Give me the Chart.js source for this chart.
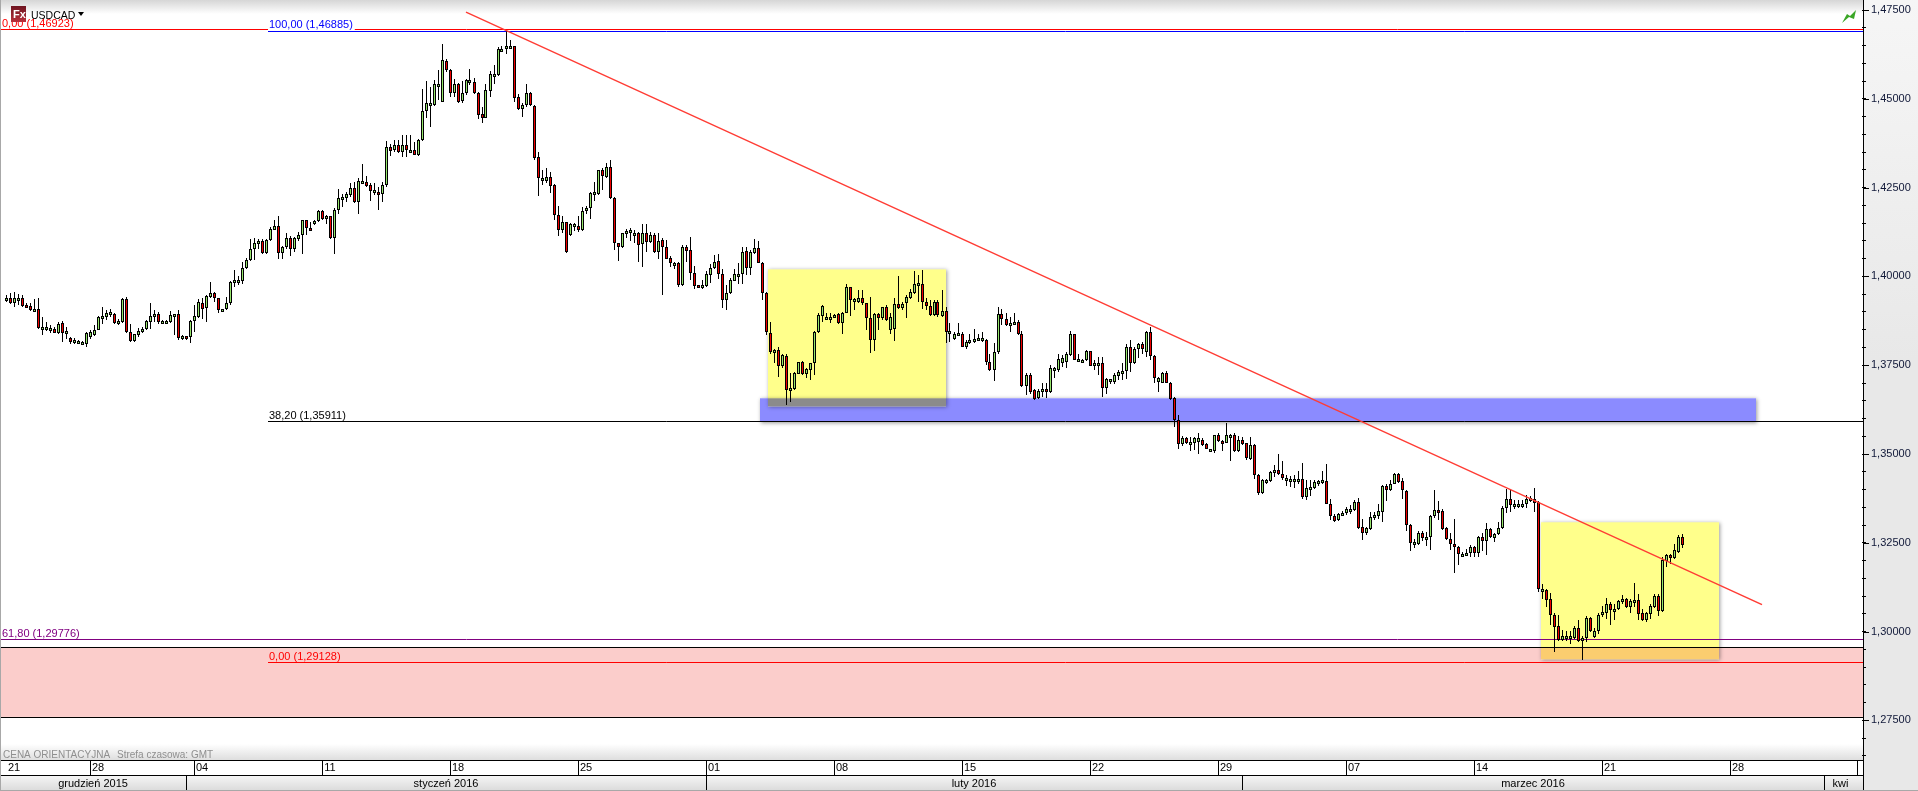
<!DOCTYPE html>
<html><head><meta charset="utf-8">
<style>html,body{margin:0;padding:0;background:#fff;overflow:hidden}canvas{display:block}</style>
<script src="https://cdn.jsdelivr.net/npm/chart.js@4/dist/chart.umd.min.js"></script>
</head><body><canvas id="c" width="1918" height="791"></canvas>
<script>
// Prices are stored in pips (1/10000), one value per 4-hour candle.
const opens=[
13935,13940,13925,13936,13938,13920,13916,13905,13907,13853,
13852,13853,13853,13842,13868,13841,13827,13816,13814,13816,
13811,13830,13834,13850,13881,13886,13895,13895,13869,13872,
13936,13844,13818,13836,13846,13851,13872,13886,13893,13869,
13871,13872,13892,13893,13830,13831,13830,13875,13886,13926,
13912,13942,13954,13938,13905,13907,13925,13982,13989,13986,
14025,14047,14078,14093,14100,14067,14102,14132,14143,14067,
14083,14107,14078,14104,14118,14158,14135,14149,14155,14184,
14164,14170,14107,14188,14220,14222,14229,14250,14210,14266,
14266,14257,14239,14239,14231,14256,14363,14355,14370,14351,
14371,14354,14355,14343,14385,14466,14483,14482,14538,14492,
14607,14581,14517,14541,14494,14515,14547,14547,14517,14456,
14447,14523,14568,14567,14639,14641,14647,14648,14504,14471,
14482,14515,14481,14335,14270,14270,14280,14256,14174,14130,
14153,14118,14143,14143,14130,14183,14194,14235,14231,14299,
14280,14307,14222,14093,14083,14121,14123,14121,14123,
14090,14121,14098,14116,14069,14102,14084,14052,14036,14037,
13976,14082,14074,14011,13975,13969,13973,14004,14023,14043,
14007,13933,13953,13988,14005,14007,14071,14025,14067,14079,
14039,13954,13842,13788,13794,13748,13776,13682,13684,13726,
13758,13724,13738,13755,13844,13890,13884,13879,13888,13893,
13868,13898,13969,13930,13929,13938,13924,13882,13822,13893,
13884,13915,13849,13851,13921,13910,13924,13940,13953,13980,
13980,13929,13918,13891,13928,13890,13902,13842,13824,13838,
13839,13802,13813,13818,13824,13822,13822,13760,13737,13786,
13893,13879,13862,13869,13873,13837,13692,13722,13679,13658,
13675,13684,13675,13738,13736,13755,13760,13780,13837,13762,
13760,13764,13789,13748,13753,13755,13687,13703,13703,13720,
13731,13733,13802,13755,13796,13811,13788,13843,13777,13703,
13701,13727,13701,13659,13597,13527,13545,13531,13532,13534,
13539,13527,13511,13509,13553,13537,13531,13552,13553,13509,
13539,13530,13487,13525,13442,13389,13424,13424,13447,13456,
13445,13429,13426,13428,13426,13431,13379,13404,13404,13418,
13419,13425,13360,13326,13315,13328,13334,13342,13343,13364,
13295,13278,13290,13324,13325,13337,13409,13398,13417,13445,
13423,13397,13301,13247,13246,13279,13264,13267,13325,13343,
13339,13291,13262,13248,13239,13213,13213,13221,13238,13221,
13267,13255,13290,13264,13274,13292,13348,13374,13356,13356,
13356,13358,13372,13374,13364,13117,13118,13091,13048,13017,
12977,12985,12985,12983,13009,12973,12982,13038,12985,13002,
13046,13052,13077,13058,13064,13083,13093,13069,13084,13088,
13052,13032,13050,13069,13100,13058,13199,13215,13207,13224,
13266];
const highs=[
13947,13952,13955,13950,13947,13924,13924,13936,13938,13886,
13872,13862,13858,13872,13875,13858,13830,13828,13820,13818,
13844,13848,13862,13888,13914,13905,13908,13897,13881,13938,
13942,13865,13839,13856,13858,13877,13925,13905,13900,13877,
13877,13903,13895,13905,13834,13831,13877,13919,13936,13938,
13947,13983,13955,13939,13909,13942,13986,14019,14000,14041,
14053,14104,14107,14106,14104,14104,14139,14158,14170,14085,
14123,14113,14111,14125,14158,14160,14154,14158,14188,14188,
14172,14171,14194,14245,14233,14238,14263,14266,14276,14316,
14282,14263,14263,14252,14266,14381,14372,14384,14384,14398,
14398,14398,14379,14388,14529,14550,14534,14553,14581,14654,
14611,14585,14557,14545,14551,14555,14583,14560,14520,14476,
14543,14579,14595,14645,14648,14692,14665,14650,14513,14487,
14543,14519,14483,14349,14301,14304,14294,14259,14198,14170,
14154,14151,14151,14170,14196,14198,14238,14266,14301,14304,
14318,14327,14224,14094,14123,14134,14136,14130,14125,
14147,14149,14125,14121,14121,14107,14102,14057,14041,14041,
14088,14088,14110,14030,13976,13990,14016,14034,14060,14062,
14020,13976,13997,14022,14037,14084,14084,14074,14104,14100,
14041,13956,13871,13796,13802,13783,13783,13727,13731,13760,
13761,13741,13757,13847,13896,13920,13898,13896,13894,13896,
13900,13980,13971,13940,13961,13961,13926,13941,13896,13896,
13915,13919,13896,13938,14001,13929,13947,13966,14016,14004,
14018,13938,13933,13933,13933,13963,13913,13869,13844,13869,
13843,13822,13838,13853,13837,13844,13824,13783,13813,13913,
13907,13898,13886,13898,13877,13847,13729,13727,13682,13684,
13699,13700,13750,13744,13783,13778,13788,13847,13839,13783,
13768,13792,13791,13764,13772,13774,13715,13711,13729,13738,
13755,13811,13822,13802,13813,13816,13847,13858,13779,13717,
13731,13734,13703,13661,13609,13550,13548,13548,13548,13558,
13544,13530,13515,13555,13558,13539,13586,13557,13558,13550,
13548,13531,13548,13527,13445,13431,13431,13452,13468,13499,
13480,13440,13437,13440,13452,13475,13428,13428,13428,13428,
13452,13471,13374,13332,13334,13340,13351,13356,13370,13377,
13318,13296,13337,13337,13358,13412,13415,13428,13447,13447,
13433,13400,13303,13262,13282,13282,13280,13329,13398,13367,
13346,13295,13278,13316,13242,13224,13233,13243,13242,13270,
13278,13307,13293,13278,13309,13353,13402,13401,13371,13370,
13371,13384,13381,13405,13367,13135,13121,13109,13052,13046,
13005,13003,13002,13015,13033,12987,13043,13041,13011,13052,
13071,13094,13083,13077,13090,13102,13095,13093,13138,13107,
13064,13055,13077,13107,13105,13210,13218,13219,13246,13271,
13276];
const lows=[
13928,13922,13914,13919,13914,13912,13903,13903,13853,13834,
13846,13841,13841,13839,13816,13825,13811,13811,13813,13806,
13801,13825,13831,13848,13867,13878,13886,13867,13862,13869,
13842,13816,13816,13830,13841,13848,13853,13872,13867,13865,
13867,13869,13834,13820,13822,13822,13813,13844,13884,13881,
13872,13938,13928,13897,13900,13905,13919,13969,13975,13980,
14022,14044,14046,14078,14064,14064,14100,14130,14050,14050,
14078,14057,14069,14100,14062,14116,14127,14144,14154,14160,
14147,14104,14064,14177,14196,14210,14224,14208,14177,14262,
14252,14213,14229,14188,14210,14252,14339,14351,14348,14335,
14337,14348,14341,14340,14382,14447,14421,14479,14496,14490,
14576,14506,14506,14487,14487,14510,14539,14513,14442,14432,
14445,14506,14543,14564,14635,14626,14642,14492,14468,14449,
14478,14479,14327,14227,14256,14262,14235,14160,14113,14121,
14067,14113,14128,14125,14128,14177,14161,14212,14229,14243,
14278,14217,14074,14044,14081,14109,14100,14094,14041,
14027,14069,14093,14067,14048,13947,14048,14027,14022,13971,
13973,14041,13990,13966,13967,13966,13969,13982,14022,13994,
13912,13905,13950,13987,13980,13978,14004,14004,14063,14037,
13935,13835,13783,13755,13717,13741,13638,13647,13680,13724,
13722,13713,13708,13722,13841,13872,13879,13869,13886,13865,
13838,13896,13888,13905,13924,13919,13849,13785,13791,13849,
13877,13875,13838,13819,13907,13905,13882,13936,13950,13929,
13907,13905,13890,13888,13886,13886,13813,13816,13822,13835,
13800,13796,13809,13813,13819,13816,13750,13734,13705,13783,
13863,13860,13844,13866,13835,13689,13666,13670,13652,13654,
13661,13659,13672,13713,13731,13744,13741,13776,13764,13761,
13759,13762,13747,13736,13722,13661,13670,13697,13697,13708,
13708,13710,13731,13753,13769,13781,13772,13766,13700,13675,
13699,13699,13653,13575,13515,13523,13527,13509,13511,13501,
13524,13513,13509,13503,13535,13509,13530,13481,13506,13506,
13526,13483,13484,13431,13386,13387,13415,13422,13436,13440,
13428,13409,13407,13404,13417,13373,13370,13381,13402,13410,
13415,13358,13313,13310,13311,13325,13327,13330,13340,13290,
13259,13271,13287,13315,13318,13309,13367,13396,13415,13418,
13374,13283,13227,13236,13243,13255,13240,13229,13321,13313,
13287,13259,13231,13165,13189,13210,13212,13210,13210,13210,
13227,13215,13264,13252,13271,13289,13334,13337,13346,13349,
13349,13349,13365,13337,13111,13091,13069,13020,12942,12975,
12973,12975,12964,12980,12971,12919,12971,12999,12983,12994,
13041,13036,13018,13032,13060,13077,13067,13052,13069,13032,
13030,13027,13036,13067,13043,13056,13182,13191,13204,13222,
13236];
const closes=[
13940,13925,13938,13939,13916,13914,13905,13908,13855,13859,
13859,13855,13842,13867,13841,13846,13816,13822,13818,13816,
13840,13843,13850,13886,13888,13897,13899,13869,13875,13936,
13844,13818,13837,13846,13853,13874,13888,13893,13872,13874,
13874,13891,13893,13828,13831,13829,13875,13888,13928,13909,
13944,13954,13938,13905,13907,13926,13984,13991,13991,14025,
14047,14078,14093,14100,14067,14102,14134,14142,14067,14083,
14107,14078,14108,14118,14158,14135,14130,14155,14184,14163,
14170,14107,14188,14222,14224,14231,14250,14210,14270,14270,
14255,14241,14243,14229,14256,14363,14354,14370,14351,14371,
14355,14357,14343,14385,14466,14487,14487,14541,14541,14609,
14581,14517,14541,14492,14515,14553,14553,14517,14454,14447,
14524,14570,14570,14640,14641,14648,14648,14501,14471,14484,
14515,14482,14334,14278,14278,14280,14255,14174,14132,14153,
14069,14147,14147,14130,14185,14194,14236,14237,14299,14282,
14307,14220,14093,14083,14121,14129,14130,14123,14088,
14121,14098,14116,14068,14100,14084,14050,14037,14038,13976,
14082,14072,14010,13974,13969,13975,14006,14024,14042,14007,
13935,13954,13990,14008,14008,14070,14024,14069,14079,14039,
13952,13843,13788,13794,13748,13778,13680,13687,13727,13758,
13724,13739,13755,13844,13891,13916,13886,13886,13891,13868,
13898,13969,13935,13936,13938,13924,13882,13822,13893,13884,
13913,13877,13886,13922,13910,13921,13941,13955,13980,13982,
13929,13916,13892,13928,13891,13903,13844,13846,13837,13842,
13802,13816,13821,13825,13828,13828,13759,13737,13786,13893,
13879,13863,13870,13873,13837,13692,13722,13675,13656,13678,
13684,13675,13741,13741,13768,13770,13781,13837,13766,13768,
13766,13791,13748,13755,13755,13686,13711,13710,13722,13731,
13734,13802,13757,13797,13809,13795,13843,13776,13713,13713,
13727,13700,13656,13595,13528,13546,13530,13534,13544,13545,
13525,13515,13514,13553,13537,13532,13553,13555,13509,13539,
13528,13490,13525,13442,13389,13428,13428,13450,13456,13443,
13433,13433,13431,13431,13431,13379,13405,13407,13420,13423,
13426,13360,13326,13311,13330,13335,13344,13346,13365,13293,
13278,13291,13323,13327,13339,13409,13400,13417,13445,13421,
13398,13301,13250,13251,13279,13264,13267,13326,13343,13338,
13289,13262,13246,13238,13218,13219,13222,13238,13221,13267,
13255,13290,13266,13276,13293,13348,13374,13356,13360,13360,
13360,13374,13377,13363,13119,13121,13090,13047,13013,12977,
12989,12988,12988,13010,12975,12981,13038,13002,13003,13048,
13054,13077,13060,13064,13085,13093,13069,13086,13088,13050,
13032,13052,13071,13100,13058,13201,13215,13206,13229,13266,
13243];

// Weekly date row and month row
const dayLabels=['21','28','04','11','18','25','01','08','15','22','29','07','14','21','28'];
const dayIndex=[1,22,48,80,112,144,176,208,240,272,304,336,368,400,432];
const monthLabels=['grudzień 2015','styczeń 2016','luty 2016','marzec 2016','kwi'];
const monthEdges=[0,46,176,310,455.5,465];
const slotCount=466;

// Fibonacci levels drawn on the chart
const fibTexts=['0,00 (1,46923)','100,00 (1,46885)','38,20 (1,35911)','61,80 (1,29776)','0,00 (1,29128)'];
const fibPrices=[14695,14690,13591,12978,12913];
const fibStart=[0,66.5,66.5,0,66.5];
const fibColors=['#ff0000','#0000ff','#000000','#800080','#ff0000'];

// Zones: [left slot, right slot, upper price, lower price]
const pinkZone=[-1,slotCount,12957,12760];
const blueZone=[189.5,438.5,13657,13591];
const yellowZones=[[191.5,236,14020,13634],[384.75,429.25,13308,12922]];
// Falling trend line through the highs
const trendSlots=[116,440];
const trendPrices=[14744,13076];

if(new Set([opens.length,highs.length,lows.length,closes.length]).size!==1)console.error('length mismatch',opens.length,highs.length,lows.length,closes.length);

const FONT='"Liberation Sans"';
const PANEL_LEFT=1,PANEL_RIGHT=1863;
const categories=Array.from({length:slotCount},(_,i)=>{const k=dayIndex.indexOf(i);return k>=0?dayLabels[k]:'';});
const pad=a=>[null,...a,...Array(slotCount-a.length-1).fill(null)];
const wickData=pad(highs.map((h,i)=>[lows[i],h]));
const bodyData=pad(opens.map((o,i)=>[o,closes[i]]));
const bodyColors=pad(opens.map((o,i)=>closes[i]>=o?'#96e66c':'#f00000'));
const trendData=Array(slotCount).fill(null);
trendData[trendSlots[0]]=trendPrices[0];trendData[trendSlots[1]]=trendPrices[1];

const chrome={
 id:'chrome',
 beforeDraw(c){
  const g=c.ctx,w=c.width;
  g.save();
  g.fillStyle='#fff';g.fillRect(0,0,w,791);
  let gr=g.createLinearGradient(0,0,0,14);gr.addColorStop(0,'#d6d6d6');gr.addColorStop(1,'#ffffff');
  g.fillStyle=gr;g.fillRect(0,0,PANEL_RIGHT,14);
  gr=g.createLinearGradient(0,744,0,760);gr.addColorStop(0,'#ffffff');gr.addColorStop(1,'#dedede');
  g.fillStyle=gr;g.fillRect(0,744,PANEL_RIGHT,16);
  gr=g.createLinearGradient(0,0,0,360);gr.addColorStop(0,'#f6f6f6');gr.addColorStop(1,'#e8e8e8');
  g.fillStyle=gr;g.fillRect(PANEL_RIGHT,0,55,791);
  g.restore();
 },
 beforeDatasetsDraw(c){
  const g=c.ctx,x=c.scales.x,y=c.scales.y;
  const rectOf=z=>{const l=Math.max(PANEL_LEFT,x.getPixelForValue(z[0])),r=Math.min(PANEL_RIGHT,x.getPixelForValue(z[1])),t=y.getPixelForValue(z[2]),b=y.getPixelForValue(z[3]);return [l,r,t,b];};
  const shadow=q=>{
   g.save();
   g.beginPath();g.rect(0,0,c.width,c.height);g.rect(q[0],q[2],q[1]-q[0],q[3]-q[2]);g.clip('evenodd');
   g.shadowColor='rgba(0,0,0,.4)';g.shadowBlur=4;g.shadowOffsetX=1;g.shadowOffsetY=1;
   g.fillStyle='#fff';g.fillRect(q[0],q[2],q[1]-q[0],q[3]-q[2]);
   g.restore();
  };
  g.save();
  const p=rectOf(pinkZone);
  g.fillStyle='#fbcdcb';g.fillRect(p[0],p[2],p[1]-p[0],p[3]-p[2]);
  g.fillStyle='#000';g.fillRect(p[0],Math.round(p[2]),p[1]-p[0],1);g.fillRect(p[0],Math.round(p[3]),p[1]-p[0],1);
  const b=rectOf(blueZone);
  shadow(b);
  g.fillStyle='#8b8bff';g.fillRect(b[0],b[2],b[1]-b[0],b[3]-b[2]);
  yellowZones.forEach(z=>{
   const q=rectOf(z);
   shadow(q);
   g.save();
   g.globalCompositeOperation='multiply';
   g.fillStyle='#ffff8b';g.fillRect(q[0],q[2],q[1]-q[0],q[3]-q[2]);
   g.restore();
  });
  g.restore();
  g.save();
  fibPrices.forEach((v,i)=>{
   const py=Math.floor(y.getPixelForValue(v))+.5,l=fibStart[i]?x.getPixelForValue(fibStart[i]):PANEL_LEFT;
   g.strokeStyle=fibColors[i];g.lineWidth=1;g.beginPath();g.moveTo(l,py);g.lineTo(PANEL_RIGHT,py);g.stroke();
  });
  g.restore();
  // Crisp candles: bars sit on whole pixels
  c.data.datasets.forEach((d,i)=>{
   if(d.type==='line')return;
   c.getDatasetMeta(i).data.forEach(el=>{
    if(!isFinite(el.x)||!isFinite(el.y))return;
    el.x=Math.floor(el.x)+.5;el.y=Math.round(el.y);el.base=Math.round(el.base);
    if(d.label==='body'&&Math.abs(el.y-el.base)<3){el.base=el.y+3;}
   });
  });
 },
 afterDatasetsDraw(c){
  const g=c.ctx,x=c.scales.x,y=c.scales.y;
  g.save();
  g.font='11px '+FONT;g.textBaseline='alphabetic';g.textAlign='left';
  fibTexts.forEach((t,i)=>{
   const px=fibStart[i]?x.getPixelForValue(fibStart[i])+1:2;
   const py=Math.floor(y.getPixelForValue(fibPrices[i]));
   if(i===1){g.fillStyle='#fff';g.fillRect(px-1,18,g.measureText(t).width+3,12);}
   g.fillStyle=fibColors[i];
   g.fillText(t,px,py-(i===1?3:2));
  });
  let gr=g.createLinearGradient(0,6,0,22);gr.addColorStop(0,'#6e1420');gr.addColorStop(1,'#b8303c');
  g.fillStyle=gr;g.fillRect(11,6,15,16);
  g.fillStyle='#fff';g.font='bold 11px '+FONT;g.fillText('Fx',13,18);
  g.fillStyle='#000';g.font='10.5px '+FONT;g.fillText('USDCAD',31,19);
  g.beginPath();g.moveTo(78,12);g.lineTo(84,12);g.lineTo(81,16);g.closePath();g.fill();
  g.fillStyle='#3aa626';g.beginPath();
  [[1842,23],[1847,14],[1850,16],[1856,10],[1854,19],[1849,17]].forEach((q,i)=>i?g.lineTo(q[0],q[1]):g.moveTo(q[0],q[1]));
  g.closePath();g.fill();
  g.fillStyle='#8f8f8f';g.font='10px '+FONT;
  g.fillText('CENA ORIENTACYJNA',3,758);g.fillText('Strefa czasowa: GMT',117,758);
  g.restore();
 },
 afterDraw(c){
  const g=c.ctx,x=c.scales.x,y=c.scales.y;
  g.save();
  g.fillStyle='#000';
  g.fillRect(PANEL_RIGHT,0,1,791);
  g.fillRect(0,760,PANEL_RIGHT,1);
  y.ticks.forEach(t=>{if(t.value%250===0)g.fillRect(PANEL_RIGHT,Math.round(y.getPixelForValue(t.value)),6,1);});
  let gr=g.createLinearGradient(0,775,0,790);gr.addColorStop(0,'#f6f6f6');gr.addColorStop(1,'#dcdcdc');
  g.fillStyle=gr;g.fillRect(0,775,PANEL_RIGHT,15);
  g.fillStyle='#000';g.fillRect(0,775,PANEL_RIGHT,1);
  g.font='11px '+FONT;g.textAlign='center';g.textBaseline='alphabetic';
  monthLabels.forEach((m,i)=>{
   const l=i?x.getPixelForValue(monthEdges[i]):0,r=x.getPixelForValue(monthEdges[i+1]);
   g.fillStyle='#000';
   if(i)g.fillRect(Math.round(l),776,1,14);
   g.fillText(m,(l+(i===4?1857:r))/2,787);
  });
  g.fillRect(1857,760,1,15);
  g.fillStyle='#a8a8a8';g.fillRect(0,0,1,791);g.fillRect(0,790,1918,1);
  g.restore();
 }
};

const noPad=s=>{s.paddingTop=0;s.paddingBottom=0;s.paddingLeft=0;s.paddingRight=0;};
new Chart(document.getElementById('c'),{
 data:{labels:categories,datasets:[
  {type:'line',label:'trend',data:trendData,spanGaps:true,borderColor:'#ff3c34',borderWidth:1.4,pointRadius:0,tension:0,order:0},
  {type:'bar',label:'body',data:bodyData,backgroundColor:bodyColors,borderColor:'#000',borderWidth:1,borderSkipped:false,inflateAmount:0,barThickness:3,grouped:false,order:1},
  {type:'bar',label:'wick',data:wickData,backgroundColor:'#000',borderWidth:0,inflateAmount:0,barThickness:1,grouped:false,order:2}
 ]},
 options:{
  responsive:false,animation:false,devicePixelRatio:1,
  layout:{autoPadding:false,padding:{left:2,right:0,top:0,bottom:16}},
  plugins:{legend:{display:false},tooltip:{enabled:false},title:{display:false}},
  scales:{
   x:{type:'category',offset:false,position:'bottom',
    afterFit(s){s.height=15;noPad(s);},
    afterBuildTicks(s){s.ticks=s.ticks.filter(t=>dayIndex.includes(t.value));},
    grid:{drawOnChartArea:false,offset:false,tickLength:15,tickWidth:1,color:ctx=>ctx.index===0?'rgba(0,0,0,0)':'#000'},
    border:{display:false},
    ticks:{autoSkip:false,maxRotation:0,minRotation:0,padding:-14,labelOffset:8,align:'center',color:'#000',font:{family:FONT,size:11},
     callback(v){return this.getLabelForValue(v);}}
   },
   y:{type:'linear',position:'right',min:12638.7,max:14778.2,
    afterFit(s){s.width=56;noPad(s);},
    grid:{drawOnChartArea:false,tickLength:4,color:'#000'},
    border:{display:false},
    ticks:{stepSize:50,includeBounds:false,autoSkip:false,padding:5,color:'#101838',font:{family:FONT,size:11},
     callback(v){return v%250===0?(v/10000).toFixed(5).replace('.',','):'';}}
   }
  }
 },
 plugins:[chrome]
});
</script></body></html>
